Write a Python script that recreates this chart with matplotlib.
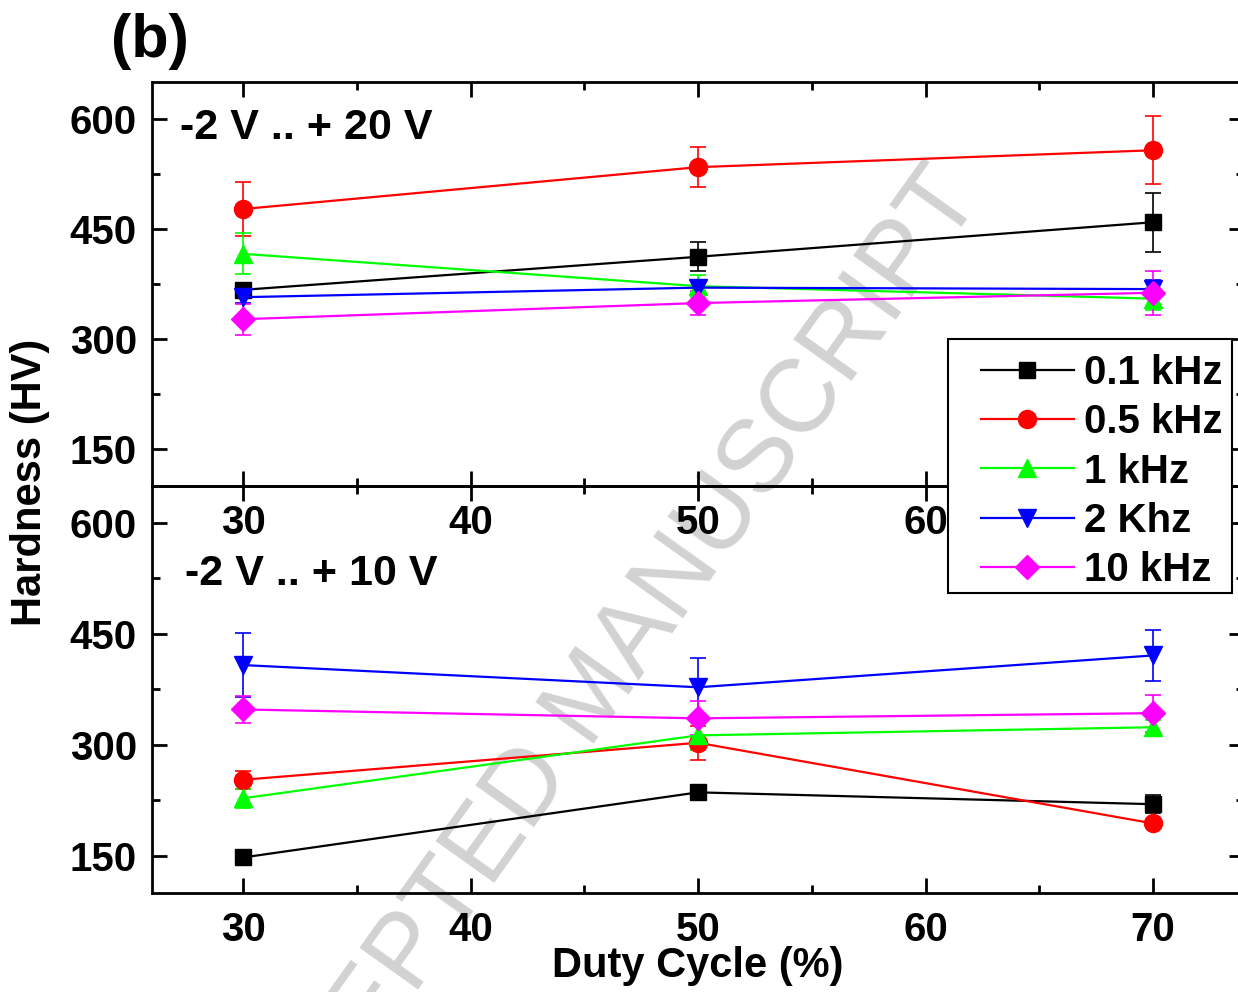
import matplotlib
matplotlib.use('Agg')
import matplotlib.pyplot as plt
from matplotlib.patches import Rectangle
from matplotlib.ticker import MultipleLocator

plt.rcParams['font.family'] = 'Liberation Sans'
plt.rcParams['font.weight'] = 'bold'
plt.rcParams['axes.labelweight'] = 'bold'

# Duty cycle (%) on the x axis
duty = [30, 50, 70]
series_labels = ['0.1 kHz', '0.5 kHz', '1 kHz', '2 Khz', '10 kHz']

# Hardness (HV) for -2 V .. +20 V, one row per frequency
hv_20V = [[367, 412, 459],
          [477, 534, 557],
          [416, 372, 355],
          [357, 370, 368],
          [327, 349, 363]]
err_20V = [[8, 20, 40],
           [37, 27, 46],
           [28, 15, 15],
           [8, 10, 12],
           [21, 16, 30]]

# Hardness (HV) for -2 V .. +10 V
hv_10V = [[148, 236, 220],
          [253, 303, 194],
          [228, 313, 324],
          [408, 378, 421],
          [348, 336, 343]]
err_10V = [[5, 5, 12],
           [12, 23, 5],
           [13, 20, 10],
           [43, 39, 34],
           [18, 23, 25]]

colors = ['black', '#ff0000', '#00ff00', '#0000ff', '#ff00ff']
markers = ['s', 'o', '^', 'v', 'D']
msizes = [12, 13, 13, 13, 12]

W, H = 1238, 992
fig = plt.figure(figsize=(W / 100, H / 100), dpi=100)
ax_top = fig.add_axes([0.1228, 0.5101, 0.8821, 0.4073])
ax_bot = fig.add_axes([0.1228, 0.0998, 0.8821, 0.4103])
ax_top.set_zorder(2)
ax_bot.set_zorder(1)

handles = []
for ax, vals, errs in [(ax_top, hv_20V, err_20V), (ax_bot, hv_10V, err_10V)]:
    ax.set_facecolor('none')
    for i in range(len(series_labels)):
        c = ax.errorbar(duty, vals[i], yerr=errs[i], color=colors[i],
                        marker=markers[i], ms=msizes[i], lw=1.6,
                        elinewidth=1.2, capsize=6, capthick=1.2,
                        label=series_labels[i])
        if ax is ax_top:
            handles.append(c[0])
    ax.set_xlim(26, 74)
    ax.set_ylim(100, 650)
    ax.xaxis.set_major_locator(MultipleLocator(10))
    ax.xaxis.set_minor_locator(MultipleLocator(5))
    ax.yaxis.set_major_locator(MultipleLocator(150))
    ax.yaxis.set_minor_locator(MultipleLocator(75))
    ax.tick_params(which='both', direction='in', top=True, right=True,
                   width=2, labelsize=29)
    ax.tick_params(which='major', length=11)
    ax.tick_params(which='minor', length=6)
    ax.tick_params(axis='x', pad=13)
    ax.tick_params(axis='y', pad=11)
    for sp in ax.spines.values():
        sp.set_linewidth(2)

ax_top.text(0.026, 0.885, '-2 V .. + 20 V', transform=ax_top.transAxes,
            fontsize=31, ha='left', va='center')
ax_bot.text(0.030, 0.783, '-2 V .. + 10 V', transform=ax_bot.transAxes,
            fontsize=31, ha='left', va='center')

ax_bot.set_xlabel('Duty Cycle (%)', fontsize=30, labelpad=-2)
fig.text(30 / W, 1 - 482 / H, 'Hardness (HV)', rotation=90,
         fontsize=30, ha='center', va='center')
fig.text(150 / W, 1 - 42 / H, '(b)', fontsize=44, ha='center', va='center')

# watermark behind the data
fig.text(594 / W, 1 - 697 / H, 'ACCEPTED MANUSCRIPT', rotation=54.5,
         fontsize=74, color='#d2d2d2', weight='normal', ha='center',
         va='center', rotation_mode='anchor', zorder=0.5)

# legend box and entries
fig.add_artist(Rectangle((948 / W, 1 - 593 / H), (1232 - 948) / W, (593 - 339) / H,
                         transform=fig.transFigure, facecolor='white',
                         edgecolor='black', lw=1.5, zorder=4))
leg = fig.legend(handles, series_labels, loc='upper left',
                 bbox_to_anchor=(981 / W, 1 - 354 / H), frameon=False,
                 fontsize=29, handlelength=2.3, handletextpad=0.25,
                 labelspacing=0.28, borderpad=0, borderaxespad=0,
                 numpoints=1)
leg.set_zorder(5)

fig.savefig('out.png', dpi=100)
